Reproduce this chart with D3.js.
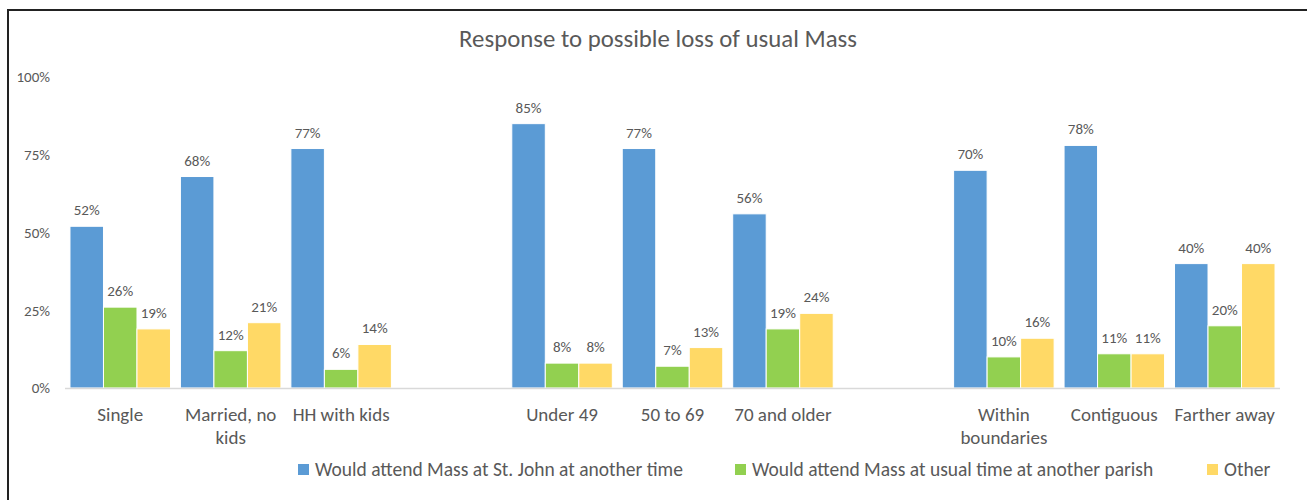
<!DOCTYPE html>
<html>
<head>
<meta charset="utf-8">
<script src="https://cdn.jsdelivr.net/npm/d3@7"></script>
<style>
  body { margin: 0; background: #fff; }
  text { font-family: Carlito, Calibri, Lato, "Open Sans", sans-serif; fill: #595959; }
</style>
</head>
<body>
<div id="chart"></div>
<script>
// categories ("" = empty spacer slot between groups)
let categories = ["Single", "Married, no kids", "HH with kids", "",
                  "Under 49", "50 to 69", "70 and older", "",
                  "Within boundaries", "Contiguous", "Farther away"];
let labelLines = [["Single"], ["Married, no", "kids"], ["HH with kids"], [],
                  ["Under 49"], ["50 to 69"], ["70 and older"], [],
                  ["Within", "boundaries"], ["Contiguous"], ["Farther away"]];

let seriesNames = ["Would attend Mass at St. John at another time",
                   "Would attend Mass at usual time at another parish",
                   "Other"];
let sameParish  = [52, 68, 77, null, 85, 77, 56, null, 70, 78, 40];
let otherParish = [26, 12, 6, null, 8, 7, 19, null, 10, 11, 20];
let other       = [19, 21, 14, null, 8, 13, 24, null, 16, 11, 40];
let yTicks = [0, 25, 50, 75, 100];
let colors = ["#5B9BD5", "#92D050", "#FFD966"];

let dim = { width: 1307, height: 500 };
let plot = { left: 65, right: 1280, top: 77, bottom: 388 };

let svg = d3.select("#chart").append("svg")
    .attr("width", dim.width)
    .attr("height", dim.height);

// outer chart border (clipped at right/bottom like the picture)
svg.append("rect")
    .attr("x", 8).attr("y", 10)
    .attr("width", dim.width + 20).attr("height", dim.height + 20)
    .attr("fill", "#fff")
    .attr("stroke", "#222")
    .attr("stroke-width", 2);

svg.append("text")
    .attr("x", 658).attr("y", 47)
    .attr("text-anchor", "middle")
    .attr("font-size", 24.8)
    .text("Response to possible loss of usual Mass");

let x0 = d3.scaleBand()
    .domain(d3.range(categories.length))
    .range([plot.left, plot.right])
    .paddingInner(0.09)
    .paddingOuter(0.045);

let x1 = d3.scaleBand()
    .domain([0, 1, 2])
    .range([0, x0.bandwidth()]);

let y = d3.scaleLinear()
    .domain([0, 100])
    .range([plot.bottom, plot.top]);

// y axis labels
svg.append("g")
    .selectAll("text")
    .data(yTicks)
    .join("text")
    .attr("x", 50)
    .attr("y", d => y(d))
    .attr("dy", "0.36em")
    .attr("text-anchor", "end")
    .attr("font-size", 15)
    .text(d => d + "%");

let series = [sameParish, otherParish, other];
let rows = [];
categories.forEach((c, i) => {
    series.forEach((s, j) => {
        if (s[i] != null) rows.push({ cat: i, s: j, v: s[i] });
    });
});

let g = svg.append("g");

g.selectAll("rect")
    .data(rows)
    .join("rect")
    .attr("x", d => x0(d.cat) + x1(d.s))
    .attr("y", d => y(d.v))
    .attr("width", x1.bandwidth())
    .attr("height", d => y(0) - y(d.v))
    .attr("fill", d => colors[d.s])
    .attr("stroke", "#fff")
    .attr("stroke-width", 1);

g.selectAll("text.lbl")
    .data(rows)
    .join("text")
    .attr("class", "lbl")
    .attr("x", d => x0(d.cat) + x1(d.s) + x1.bandwidth() / 2)
    .attr("y", d => y(d.v) - 11)
    .attr("text-anchor", "middle")
    .attr("font-size", 15)
    .text(d => d.v + "%");

// baseline
svg.append("line")
    .attr("x1", plot.left).attr("x2", plot.right)
    .attr("y1", y(0) + 0.5).attr("y2", y(0) + 0.5)
    .attr("stroke", "#d9d9d9")
    .attr("stroke-width", 1.5);

// category labels
let catG = svg.append("g");
labelLines.forEach((lines, i) => {
    let t = catG.append("text")
        .attr("text-anchor", "middle")
        .attr("font-size", 19)
        .attr("x", x0(i) + x0.bandwidth() / 2)
        .attr("y", 421);
    lines.forEach((l, k) => {
        t.append("tspan")
            .attr("x", x0(i) + x0.bandwidth() / 2)
            .attr("dy", k === 0 ? 0 : 23)
            .text(l);
    });
});

// legend
let legendX = [298, 735, 1207];
let leg = svg.append("g");
seriesNames.forEach((n, i) => {
    leg.append("rect")
        .attr("x", legendX[i]).attr("y", 464)
        .attr("width", 11).attr("height", 11)
        .attr("fill", colors[i]);
    leg.append("text")
        .attr("x", legendX[i] + 17).attr("y", 476)
        .attr("font-size", 19.5)
        .text(n);
});
</script>
</body>
</html>
